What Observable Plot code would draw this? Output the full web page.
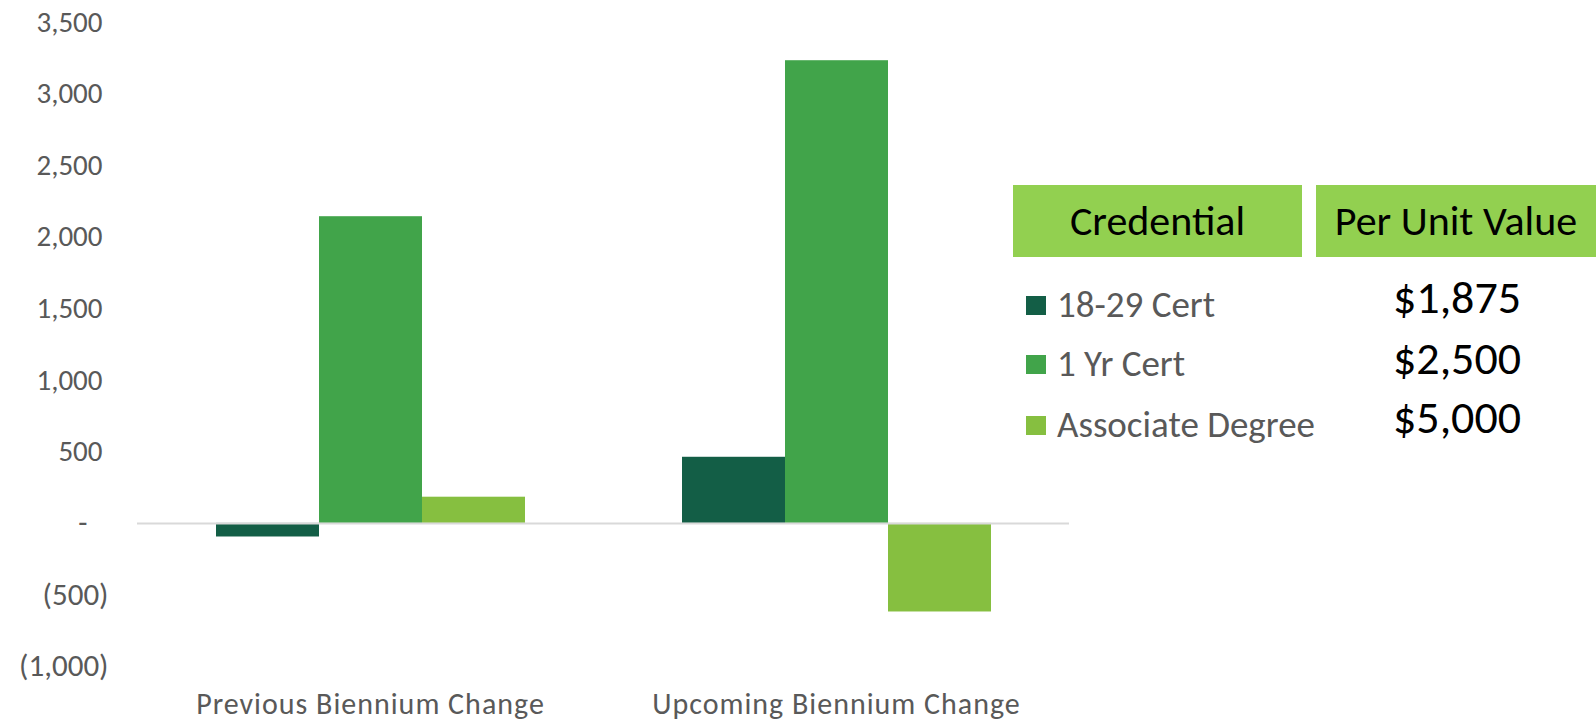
<!DOCTYPE html>
<html>
<head>
<meta charset="utf-8">
<script src="https://cdn.jsdelivr.net/npm/d3@7"></script>
<script src="https://cdn.jsdelivr.net/npm/@observablehq/plot@0.6"></script>
<style>
  html, body { margin: 0; padding: 0; background: #fff; }
  #wrap { position: relative; width: 1596px; height: 723px; font-family: Carlito, "Liberation Sans Narrow", "DejaVu Sans Condensed", "Open Sans", sans-serif; }
  #legend { position: absolute; left: 0; top: 0; width: 1596px; height: 723px; pointer-events: none; }
  .hdr { position: absolute; background: #92D050; color: #000; font-size: 42px; display: flex; align-items: center; justify-content: center; line-height: 1; }
  .item { position: absolute; color: #595959; font-size: 37px; white-space: nowrap; line-height: 1; transform: translateY(-50%); }
  .sw { position: absolute; width: 20px; height: 19px; }
  .val { position: absolute; color: #000; font-size: 46px; white-space: nowrap; line-height: 1; transform: translateY(-50%); }
</style>
</head>
<body>
<div id="wrap"><div id="chart"></div><div id="legend"></div></div>
<script>
const categories = ["Previous Biennium Change", "Upcoming Biennium Change"];
const series = ["18-29 Cert", "1 Yr Cert", "Associate Degree"];
const cert1829 = [-95, 462];
const yr1Cert = [2143, 3233];
const associateDegree = [183, -619];
const seriesColors = ["#135E46", "#41A44A", "#86BF40"];
const perUnitValues = ["$1,875", "$2,500", "$5,000"];
const tableHeaders = ["Credential", "Per Unit Value"];
const yTicksPositive = [500, 1000, 1500, 2000, 2500, 3000, 3500];
const yTicksZero = [0];
const yTicksNegative = [-1000, -500];

const seriesValues = [cert1829, yr1Cert, associateDegree];
const data = [];
categories.forEach((c, i) => series.forEach((s, j) => data.push({category: c, series: s, value: seriesValues[j][i]})));

const num = d3.format(",");
const fmt = d => d === 0 ? "-" : d < 0 ? `(${num(-d)})` : num(d);
const tickStyle = {tickSize: 0, tickFormat: fmt, fill: "#595959", label: null};

const chart = Plot.plot({
  width: 1596,
  height: 723,
  marginLeft: 136,
  marginRight: 527,
  marginTop: 22,
  marginBottom: 57,
  style: {fontFamily: 'Carlito, "Liberation Sans Narrow", "DejaVu Sans Condensed", "Open Sans", sans-serif', background: "#fff"},
  fx: {domain: categories, padding: 0, label: null},
  x: {domain: series, paddingInner: 0, paddingOuter: 0.743, axis: null},
  y: {domain: [-1000, 3500], label: null},
  color: {domain: series, range: seriesColors},
  marks: [
    Plot.barY(data, {fx: "category", x: "series", y: "value", fill: "series"}),
    Plot.ruleY([0], {stroke: "#D9D9D9", strokeWidth: 2}),
    Plot.axisY(yTicksPositive, {...tickStyle, fontSize: 29, tickPadding: 35}),
    Plot.axisY(yTicksZero, {...tickStyle, fontSize: 30, tickPadding: 50}),
    Plot.axisY(yTicksNegative, {...tickStyle, fontSize: 31, tickPadding: 29}),
    Plot.axisFx({anchor: "bottom", tickSize: 0, tickPadding: 26, fontSize: 30, fill: "#595959", label: null})
  ]
});
d3.select(chart).selectAll('g[aria-label="fx-axis tick label"] text').style("letter-spacing", "1px");
document.getElementById("chart").appendChild(chart);

const legend = document.getElementById("legend");
const hdrBoxes = [[1013, 289], [1316, 280]];
tableHeaders.forEach((h, i) => {
  const d = document.createElement("div");
  d.className = "hdr";
  d.textContent = h;
  d.style.left = hdrBoxes[i][0] + "px";
  d.style.width = hdrBoxes[i][1] + "px";
  d.style.top = "185px";
  d.style.height = "72px";
  legend.appendChild(d);
});
const rowY = [304, 363, 424];
const valY = [297, 358, 417];
series.forEach((s, i) => {
  const sw = document.createElement("div");
  sw.className = "sw";
  sw.style.background = seriesColors[i];
  sw.style.left = "1026px";
  sw.style.top = (rowY[i] - 8) + "px";
  legend.appendChild(sw);
  const t = document.createElement("div");
  t.className = "item";
  t.textContent = s;
  t.style.left = "1057px";
  t.style.top = rowY[i] + "px";
  legend.appendChild(t);
  const v = document.createElement("div");
  v.className = "val";
  v.textContent = perUnitValues[i];
  v.style.left = "1393px";
  v.style.top = valY[i] + "px";
  legend.appendChild(v);
});
</script>
</body>
</html>
